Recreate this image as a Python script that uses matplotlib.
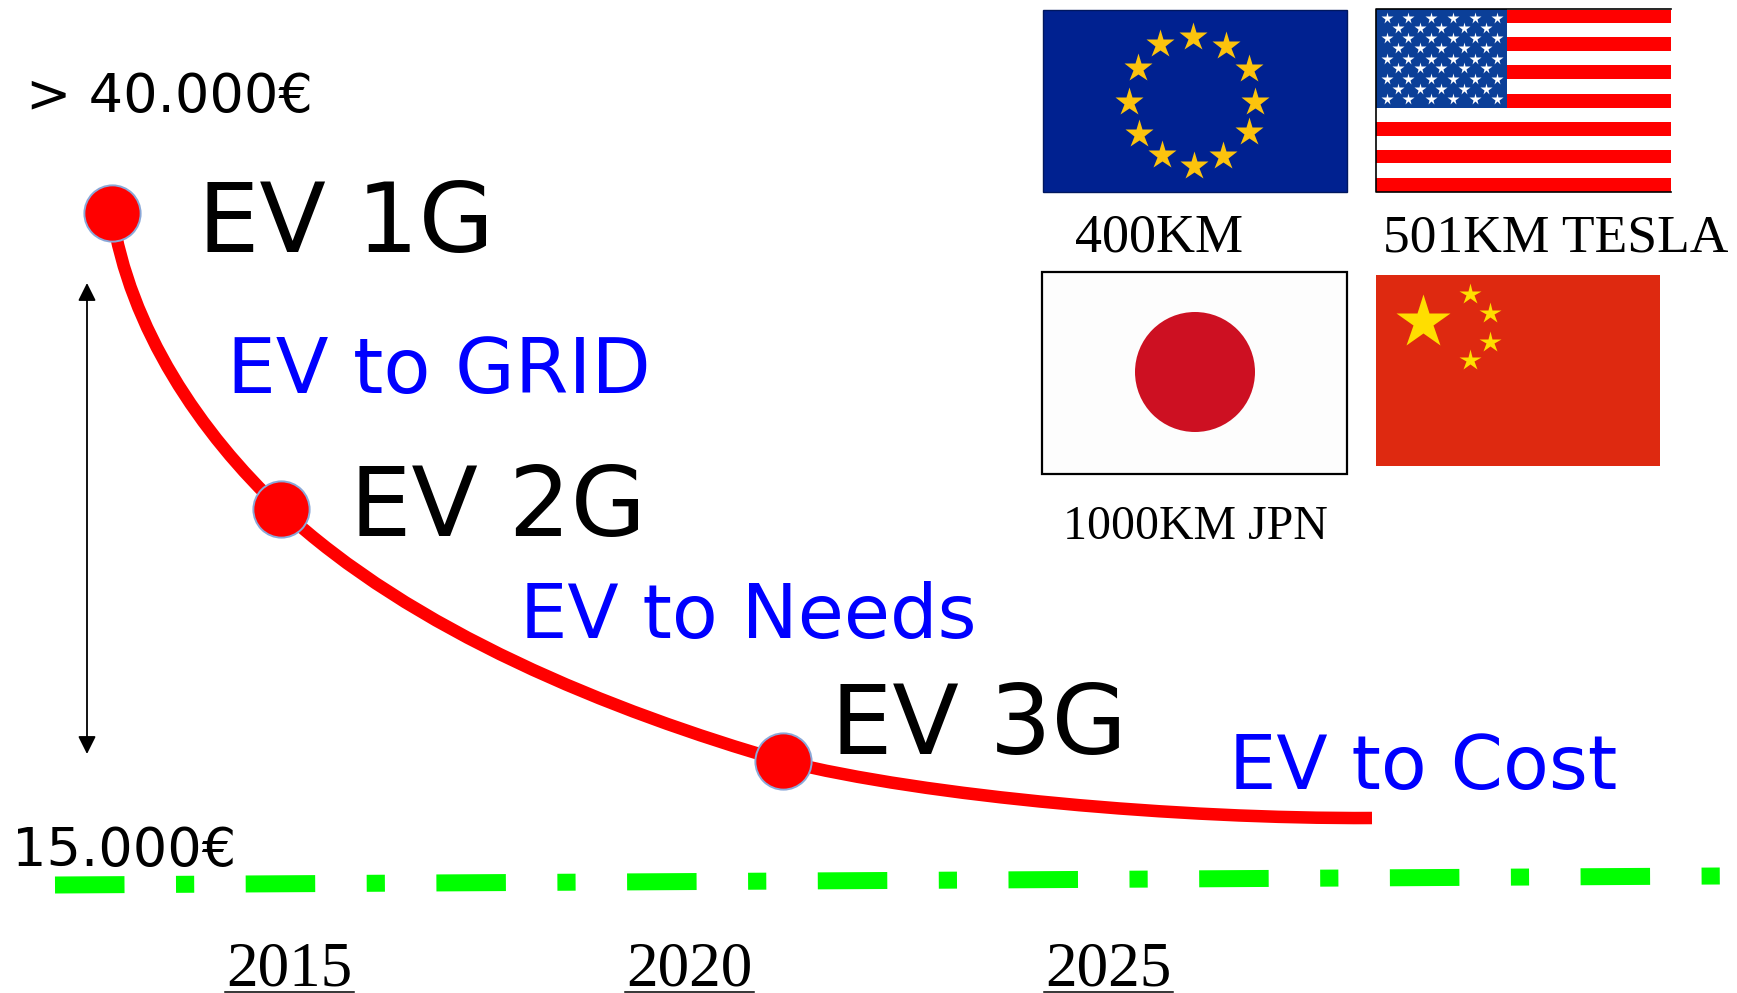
import matplotlib
matplotlib.use('Agg')
import matplotlib.pyplot as plt
from matplotlib.patches import Rectangle, Circle, PathPatch
from matplotlib.path import Path

W, H = 1737, 993

# cost curve as three cubic segments, in figure pixels (anchor, handle, handle, anchor, ...)
curve_x = [112, 129, 201, 281, 412, 610, 783, 927, 1180, 1372]
curve_y = [213, 328, 434, 509, 631, 711, 761, 797, 819, 818]
gen_x = [112, 281, 783]
gen_y = [213, 509, 761]

# target price line
target_x = [55, 1720]
target_y = [885, 876]

year_labels = ['2015', '2020', '2025']
year_x = [226, 626, 1045]

eu_stars_x = [1192.6, 1225.5, 1248.5, 1255, 1249, 1223, 1193.5, 1162, 1139, 1128.6, 1137.7, 1159.7]
eu_stars_y = [37, 46, 69, 102, 132, 156, 166, 155, 134, 102, 68, 44]

us_rows_y = [18.3, 27.7, 37.7, 47.7, 58.7, 68.3, 78.7, 88.7, 98.7]
us_long_x = [1386.8, 1408.4, 1430.5, 1452.5, 1475, 1497]
us_short_x = [1397.6, 1419.6, 1441.3, 1463.8, 1485.9]
us_red_top = [10, 37, 65, 94, 122, 150, 178]
us_red_bottom = [23, 51, 79, 108, 136, 163, 192]

cn_small_x = [1469.6, 1489.5, 1489.5, 1469.6]
cn_small_y = [293.7, 313.3, 341.7, 360]

fig = plt.figure(figsize=(W / 100, H / 100), dpi=100)
ax = fig.add_axes([0, 0, 1, 1])
ax.set_xlim(0, W)
ax.set_ylim(H, 0)
ax.axis('off')

SANS = 'DejaVu Sans'
SERIF = 'Liberation Serif'


def rect(x0, y0, x1, y1, **kw):
    ax.add_patch(Rectangle((x0, y0), x1 - x0, y1 - y0, **kw))


# ---- flags ----
rect(1043, 10, 1347, 192, fc='#002190', ec='#00175f', lw=1)
ax.plot(eu_stars_x, eu_stars_y, ls='none', marker='*', ms=21, mfc='#fcc30d', mec='none')

rect(1376, 9, 1671, 192, fc='white', ec='none')
for top, bottom in zip(us_red_top, us_red_bottom):
    rect(1376, top, 1671, bottom, fc='#ff0000', ec='none')
rect(1376, 9, 1507, 108, fc='#0b3f98', ec='none')
for i, y in enumerate(us_rows_y):
    xs = us_long_x if i % 2 == 0 else us_short_x
    ax.plot(xs, [y] * len(xs), ls='none', marker='*', ms=8.5, mfc='white', mec='none')
ax.plot([1671, 1376, 1376, 1671], [9, 9, 192, 192], color='black', lw=1.2)

rect(1042, 272, 1347, 474, fc='#fdfdfd', ec='black', lw=1.6)
ax.add_patch(Circle((1195, 372), 60, fc='#cd1022', ec='none'))

rect(1376, 275, 1660, 466, fc='#de2910', ec='none')
ax.plot([1423], [322], ls='none', marker='*', ms=41, mfc='#ffde00', mec='none')
ax.plot(cn_small_x, cn_small_y, ls='none', marker='*', ms=16, mfc='#ffde00', mec='none')

# ---- cost curve ----
codes = [Path.MOVETO] + [Path.CURVE4] * (len(curve_x) - 1)
ax.add_patch(PathPatch(Path(list(zip(curve_x, curve_y)), codes), fc='none', ec='#ff0000', lw=9, capstyle='butt'))
ax.plot(gen_x, gen_y, ls='none', marker='o', ms=40.5, mfc='#ff0000', mec='#8aa8d8', mew=1.4)

# ---- target line ----
ax.plot(target_x, target_y, color='#00ff00', lw=12.24,
        dashes=(69.5 / 17, 51.5 / 17, 18.2 / 17, 51.5 / 17), dash_capstyle='butt')

# ---- price range arrow ----
ax.annotate('', xy=(87, 283), xytext=(87, 754), arrowprops=dict(arrowstyle='<|-|>', color='black', lw=1.3,
                                                                 mutation_scale=27, shrinkA=0, shrinkB=0))

# ---- labels ----
ax.text(26, 112, '> 40.000€', family=SANS, fontsize=39, va='baseline')
ax.text(12, 866, '15.000€', family=SANS, fontsize=39, va='baseline')

ax.text(198, 252, 'EV 1G', family=SANS, fontsize=70, va='baseline')
ax.text(350, 536, 'EV 2G', family=SANS, fontsize=70, va='baseline')
ax.text(831, 754, 'EV 3G', family=SANS, fontsize=70, va='baseline')

ax.text(227, 393, 'EV to GRID', family=SANS, fontsize=55.5, color='#0000ff', va='baseline')
ax.text(520, 638, 'EV to Needs', family=SANS, fontsize=54, color='#0000ff', va='baseline')
ax.text(1229, 789, 'EV to Cost', family=SANS, fontsize=54, color='#0000ff', va='baseline')

ax.text(1075, 251, '400KM', family=SERIF, fontsize=39, va='baseline')
ax.text(1383, 251, '501KM TESLA', family=SERIF, fontsize=38.5, va='baseline')
ax.text(1063, 539, '1000KM JPN', family=SERIF, fontsize=34.5, va='baseline')

for label, x in zip(year_labels, year_x):
    ax.text(x, 985, label, family=SERIF, fontsize=45.5, va='baseline')
    ax.plot([x - 1, x + 128], [991.5, 991.5], color='black', lw=1.1)

plt.savefig('out.png', dpi=100)
plt.close()
